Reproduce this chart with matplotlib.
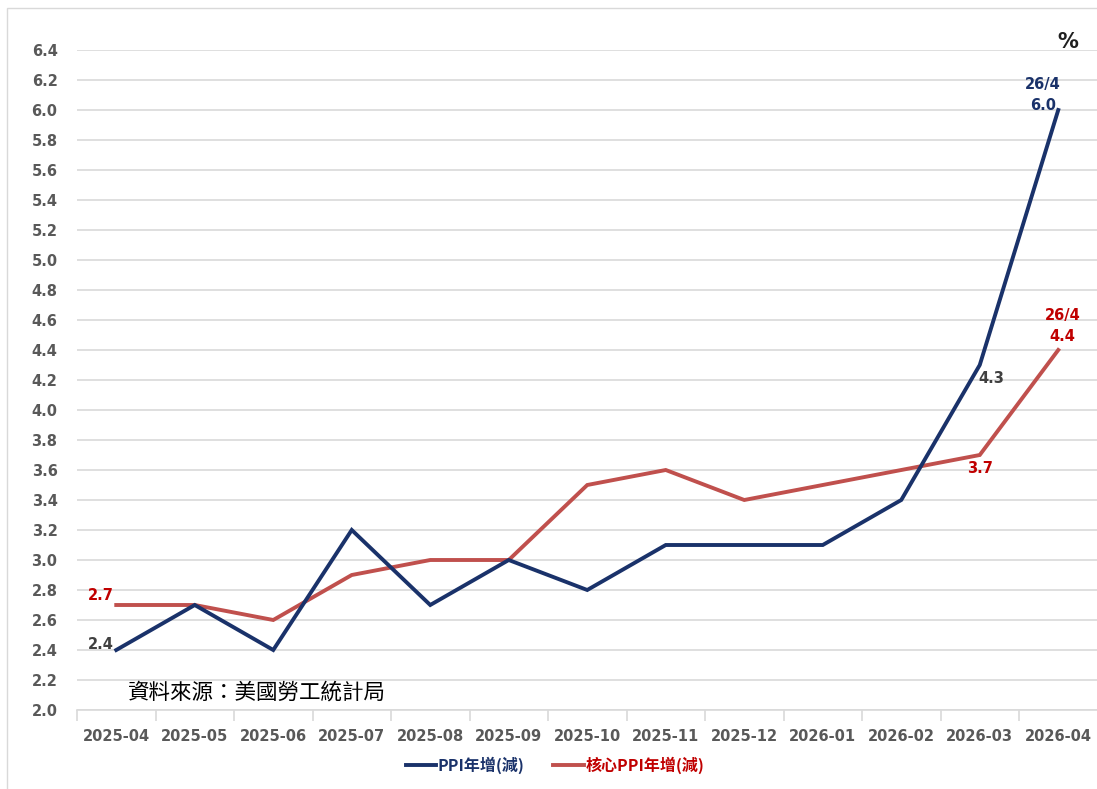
import matplotlib
matplotlib.use("Agg")
import matplotlib.pyplot as plt
from matplotlib.patches import Rectangle
from matplotlib.lines import Line2D

months = ["2025-04", "2025-05", "2025-06", "2025-07", "2025-08", "2025-09",
          "2025-10", "2025-11", "2025-12", "2026-01", "2026-02", "2026-03", "2026-04"]
ppi = [2.4, 2.7, 2.4, 3.2, 2.7, 3.0, 2.8, 3.1, 3.1, 3.1, 3.4, 4.3, 6.0]
core_ppi = [2.7, 2.7, 2.6, 2.9, 3.0, 3.0, 3.5, 3.6, 3.4, 3.5, 3.6, 3.7, 4.4]
yticks = [round(2.0 + 0.2 * i, 1) for i in range(23)]
series_names = ["PPI年增(減)", "核心PPI年增(減)"]
source_text = "資料來源：美國勞工統計局"

NAVY = "#1A326A"
RED = "#C0504D"
LABEL_RED = "#C00000"
GRAY_TXT = "#404040"
TICK_TXT = "#595959"
CJK = ["Noto Sans CJK TC", "DejaVu Sans"]

W, H = 1097, 789
fig = plt.figure(figsize=(W / 100, H / 100), dpi=100)
fig.patch.set_facecolor("white")

# outer border (only left and top edges visible)
fig.patches.append(Rectangle((7 / W, -0.2), 1.2, 1.2 - 8 / H, transform=fig.transFigure,
                             fill=False, edgecolor="#D9D9D9", linewidth=1.0))

left, right = 77 / W, 1097.5 / W
top, bottom = 1 - 50 / H, 1 - 710 / H
ax = fig.add_axes([left, bottom, right - left, top - bottom])

x = list(range(len(months)))
ax.plot(x, ppi, color=NAVY, linewidth=2.8, solid_joinstyle="miter", zorder=3)
ax.plot(x, core_ppi, color=RED, linewidth=2.8, solid_joinstyle="miter", zorder=2)

ax.set_xlim(-0.5, len(months) - 0.5)
ax.set_ylim(2.0, 6.4)
ax.set_yticks(yticks)
ax.set_yticklabels([f"{v:.1f}" for v in yticks])
ax.yaxis.grid(True, color="#D9D9D9", linewidth=1.2)
ax.set_axisbelow(True)
for s in ["top", "right", "left"]:
    ax.spines[s].set_visible(False)
ax.spines["bottom"].set_color("#D9D9D9")
ax.spines["bottom"].set_linewidth(1.2)
ax.tick_params(axis="y", length=0, pad=14, labelsize=10.5, labelcolor=TICK_TXT)
ax.set_xticks(x)
ax.set_xticklabels(months)
ax.tick_params(axis="x", length=0, pad=14, labelsize=10.5, labelcolor=TICK_TXT)
for lab in ax.get_xticklabels() + ax.get_yticklabels():
    lab.set_fontweight("bold")
ax.set_xticks([i + 0.5 for i in range(len(months) - 1)] + [-0.5], minor=True)
ax.tick_params(axis="x", which="minor", length=8, color="#D9D9D9", width=1.2, direction="out")

# data labels
lkw = dict(fontsize=10.5, fontweight="bold")
ax.annotate(f"{ppi[0]:.1f}", (0, ppi[0]), xytext=(-2, 4), textcoords="offset points",
            ha="right", va="center", color=GRAY_TXT, **lkw)
ax.annotate(f"{core_ppi[0]:.1f}", (0, core_ppi[0]), xytext=(-2, 7), textcoords="offset points",
            ha="right", va="center", color=LABEL_RED, **lkw)
ax.annotate(f"{ppi[11]:.1f}", (11, ppi[11]), xytext=(8, -10), textcoords="offset points",
            ha="center", va="center", color=GRAY_TXT, **lkw)
ax.annotate(f"{core_ppi[11]:.1f}", (11, core_ppi[11]), xytext=(0, -10), textcoords="offset points",
            ha="center", va="center", color=LABEL_RED, **lkw)
ax.annotate(f"26/4\n{ppi[12]:.1f}", (12, ppi[12]), xytext=(-11, 11), textcoords="offset points",
            ha="center", va="center", color=NAVY, linespacing=1.5, **lkw)
ax.annotate(f"26/4\n{core_ppi[12]:.1f}", (12, core_ppi[12]), xytext=(3, 17), textcoords="offset points",
            ha="center", va="center", color=LABEL_RED, linespacing=1.5, **lkw)

fig.text(1068 / W, 1 - 42 / H, "%", ha="center", va="center", fontsize=15,
         color="#202020", fontweight="bold")

fig.text(128 / W, 1 - 693 / H, source_text, ha="left", va="center", fontsize=15.5,
         color="black", family=CJK)

# legend
handles = [Line2D([0], [0], color=NAVY, linewidth=2.8),
           Line2D([0], [0], color=RED, linewidth=2.8)]
leg = fig.legend(handles, series_names, loc="center", bbox_to_anchor=(555 / W, 1 - 765 / H),
                 ncol=2, frameon=False, handlelength=1.9, handletextpad=0.1, columnspacing=1.8,
                 prop={"family": CJK, "size": 11.5, "weight": "bold"})
for t, c in zip(leg.get_texts(), [NAVY, LABEL_RED]):
    t.set_color(c)

fig.savefig("out.png", dpi=100, facecolor="white")
